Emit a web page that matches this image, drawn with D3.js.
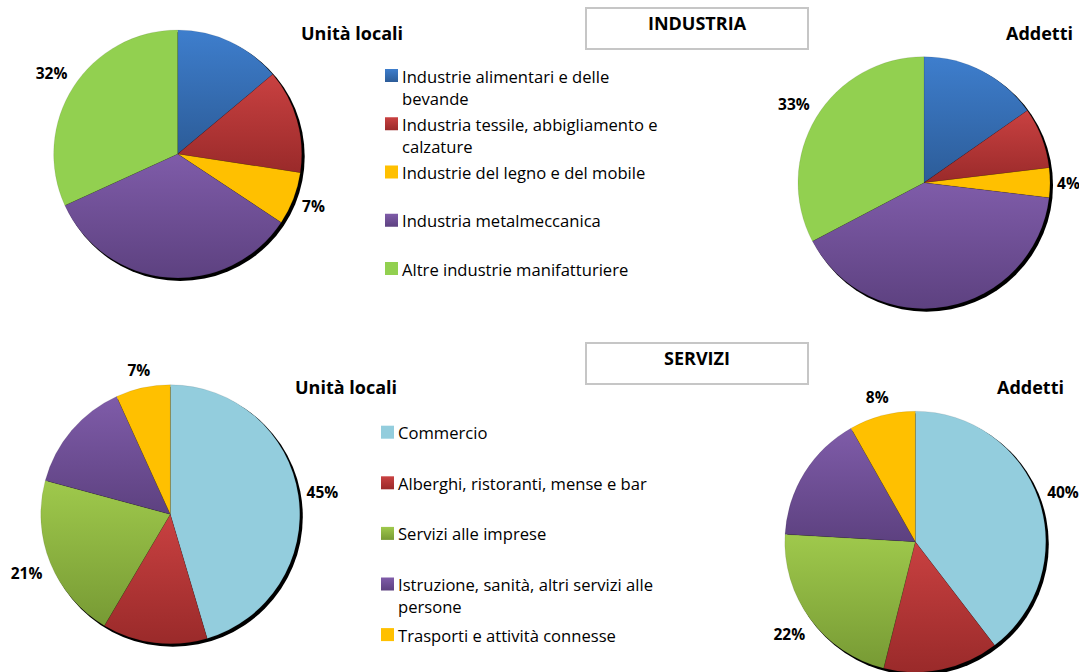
<!DOCTYPE html>
<html>
<head>
<meta charset="utf-8">
<script src="https://cdn.jsdelivr.net/npm/d3@7/dist/d3.min.js"></script>
<style>
  body { margin: 0; background: #fff; }
  svg { display: block; }
  text { font-family: "Open Sans", Lato, sans-serif; fill: #000; }
</style>
</head>
<body>
<div id="chart"></div>
<script>
// --- dati ---
industriaCategories = ["Industrie alimentari e delle\nbevande", "Industria tessile, abbigliamento e\ncalzature",
                       "Industrie del legno e del mobile", "Industria metalmeccanica", "Altre industrie manifatturiere"];
industriaUnita   = [13.9, 13.5, 6.9, 33.9, 31.8];
industriaAddetti = [15.3, 7.8, 3.8, 40.4, 32.7];
industriaLabelled = [2, 4];   // slices showing a % label

serviziCategories = ["Commercio", "Alberghi, ristoranti, mense e bar", "Servizi alle imprese",
                     "Istruzione, sanità, altri servizi alle\npersone", "Trasporti e attività connesse"];
serviziUnita   = [45.4, 13.1, 20.7, 14.0, 6.8];
serviziAddetti = [39.6, 14.3, 22.0, 15.9, 8.2];
serviziLabelled = [0, 2, 4];

// colours: [top, bottom] of vertical gradient
industriaColors = [["#3e7ecd", "#2c5c98"], ["#c94141", "#9a2a2a"], ["#ffc000", "#ffc000"],
                   ["#7f5ca9", "#5d4180"], ["#92d050", "#92d050"]];
serviziColors   = [["#93cddd", "#93cddd"], ["#c94141", "#9a2a2a"], ["#9fc94c", "#779a34"],
                   ["#7f5ca9", "#5d4180"], ["#ffc000", "#ffc000"]];

width  = 1079;
height = 672;

svg = d3.select("#chart").append("svg")
        .attr("width", width)
        .attr("height", height);

defs = svg.append("defs");

function makeGradients(prefix, colors) {
    colors.forEach(function(c, i) {
        var g = defs.append("linearGradient")
            .attr("id", prefix + i)
            .attr("x1", 0).attr("y1", 0).attr("x2", 0).attr("y2", 1);
        g.append("stop").attr("offset", "0%").attr("stop-color", c[0]);
        g.append("stop").attr("offset", "100%").attr("stop-color", c[1]);
    });
}
makeGradients("gi", industriaColors);
makeGradients("gs", serviziColors);

function drawPie(values, gradPrefix, cx, cy, r, labelled) {
    var g = svg.append("g").attr("transform", "translate(" + cx + "," + cy + ")");
    var pie = d3.pie().sort(null).value(function(d) { return d; });
    var arcs = pie(values);
    var arc = d3.arc().innerRadius(0).outerRadius(r);

    // shadow
    g.append("circle")
     .attr("cx", 2.5).attr("cy", 2.5).attr("r", r + 0.5)
     .style("fill", "#000");

    g.selectAll("path.slice").data(arcs).enter()
     .append("path")
     .attr("class", "slice")
     .attr("d", arc)
     .style("fill", function(d, i) { return "url(#" + gradPrefix + i + ")"; })
     .style("stroke", "rgba(0,0,0,0.15)")
     .style("stroke-width", 0.6);

    labelled.forEach(function(i) {
        var a = arcs[i];
        var mid = (a.startAngle + a.endAngle) / 2;
        var t = g.append("text")
            .attr("text-anchor", "middle")
            .attr("dominant-baseline", "central")
            .style("font-size", "15.5px")
            .style("font-weight", "bold")
            .text(Math.round(values[i]) + "%");
        var bb = t.node().getBBox();
        var s = Math.sin(mid), c = Math.cos(mid);
        var ext = Math.abs(s) * (bb.width / 2 + 2) + Math.abs(c) * 11;
        var rr = r + 5 + ext;
        t.attr("x", s * rr).attr("y", -c * rr);
    });
}

function drawTitle(txt, x, y, anchor) {
    svg.append("text")
       .attr("x", x).attr("y", y)
       .attr("text-anchor", anchor)
       .attr("dominant-baseline", "central")
       .style("font-size", "18px")
       .style("font-weight", "bold")
       .text(txt);
}

function drawBox(txt, x, y, w, h, ty) {
    svg.append("rect")
       .attr("x", x).attr("y", y).attr("width", w).attr("height", h)
       .style("fill", "#fff")
       .style("stroke", "#c6c6c6")
       .style("stroke-width", 2);
    svg.append("text")
       .attr("x", x + w / 2).attr("y", ty)
       .attr("text-anchor", "middle")
       .attr("dominant-baseline", "central")
       .style("font-size", "18px")
       .style("font-weight", "bold")
       .text(txt);
}

function drawLegend(categories, gradPrefix, x, y0, step, sq) {
    categories.forEach(function(cat, i) {
        var y = y0 + i * step;
        svg.append("rect")
           .attr("x", x).attr("y", y - sq / 2 - 0.5)
           .attr("width", sq).attr("height", sq)
           .style("fill", "url(#" + gradPrefix + i + ")");
        var t = svg.append("text")
           .attr("x", x + sq + 4)
           .attr("y", y)
           .style("font-size", "16.6px");
        cat.split("\n").forEach(function(line, j) {
            t.append("tspan")
             .attr("x", x + sq + 4)
             .attr("y", y + j * 22)
             .attr("dominant-baseline", "central")
             .text(line);
        });
    });
}

// INDUSTRIA
drawBox("INDUSTRIA", 586, 8, 222, 41, 23);
drawPie(industriaUnita, "gi", 177.7, 154, 124, industriaLabelled);
drawPie(industriaAddetti, "gi", 924, 182.7, 126, industriaLabelled);
drawTitle("Unità locali", 403, 33, "end");
drawTitle("Addetti", 1073, 33, "end");
drawLegend(industriaCategories, "gi", 385, 76, 48.25, 13);

// SERVIZI
drawBox("SERVIZI", 586, 343, 222, 41, 358);
drawPie(serviziUnita, "gs", 170.3, 514.3, 129.5, serviziLabelled);
drawPie(serviziAddetti, "gs", 915.3, 541.7, 130.5, serviziLabelled);
drawTitle("Unità locali", 397, 387, "end");
drawTitle("Addetti", 1064, 387, "end");
drawLegend(serviziCategories, "gs", 381, 432.7, 50.6, 13);
</script>
</body>
</html>
